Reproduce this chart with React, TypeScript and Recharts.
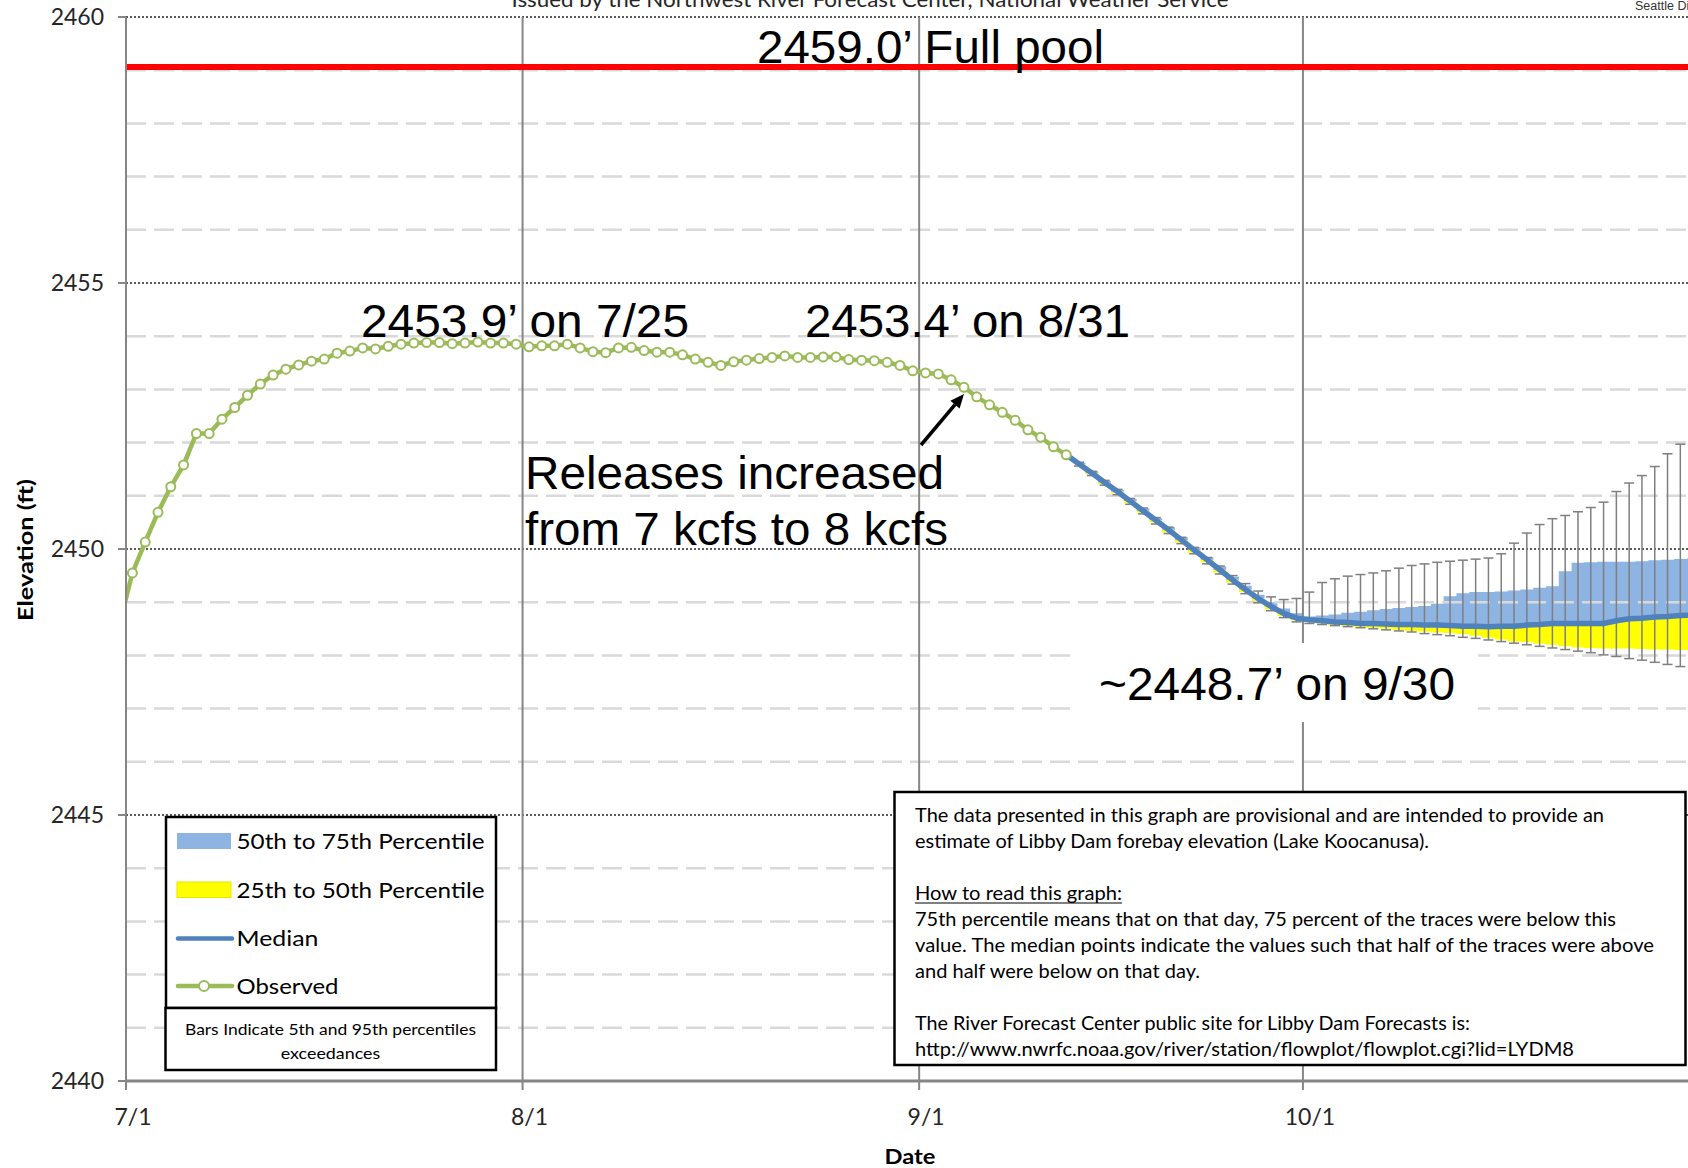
import React from "react";
import {
  Area,
  CartesianGrid,
  ComposedChart,
  ErrorBar,
  Line,
  ReferenceLine,
  XAxis,
  YAxis,
} from "recharts";

// day 0 = 7/1, one step per day
const monthLabels = ["7/1", "8/1", "9/1", "10/1"];
const monthStartDays = [0, 31, 62, 92];
const majorTicks = [2440, 2445, 2450, 2455, 2460];
const minorTicks = [
  2441, 2442, 2443, 2444, 2446, 2447, 2448, 2449, 2451, 2452, 2453, 2454,
  2456, 2457, 2458, 2459,
];
const fullPoolElev = 2459.06;

// observed forebay elevation, starting 6/30
const observedStartDay = -1;
const observedElev = [
  2448.6, 2449.55, 2450.13, 2450.69, 2451.17, 2451.58, 2452.17, 2452.17,
  2452.44, 2452.66, 2452.89, 2453.1, 2453.27, 2453.38, 2453.46, 2453.53,
  2453.57, 2453.68, 2453.72, 2453.78, 2453.76, 2453.81, 2453.85, 2453.87,
  2453.88, 2453.88, 2453.86, 2453.87, 2453.89, 2453.87, 2453.87, 2453.85,
  2453.8, 2453.82, 2453.82, 2453.85, 2453.78, 2453.71, 2453.69, 2453.78,
  2453.79, 2453.73, 2453.7, 2453.7, 2453.65, 2453.57, 2453.51, 2453.45,
  2453.52, 2453.55, 2453.58, 2453.6, 2453.63, 2453.6, 2453.6, 2453.61,
  2453.61, 2453.56, 2453.55, 2453.54, 2453.51, 2453.45, 2453.35, 2453.31,
  2453.29, 2453.18, 2453.04, 2452.86, 2452.71, 2452.57, 2452.42, 2452.24,
  2452.1, 2451.92, 2451.77,
];

// median forecast, from 9/12
const forecastStartDay = 73;
const medianElev = [
  2451.77, 2451.6, 2451.43, 2451.25, 2451.08, 2450.9, 2450.72, 2450.54,
  2450.36, 2450.17, 2449.98, 2449.8, 2449.61, 2449.42, 2449.24, 2449.07,
  2448.92, 2448.79, 2448.7, 2448.67, 2448.65, 2448.63, 2448.62, 2448.6,
  2448.6, 2448.59, 2448.58, 2448.58, 2448.57, 2448.57, 2448.56, 2448.55,
  2448.55, 2448.54, 2448.55, 2448.55, 2448.57, 2448.58, 2448.6, 2448.6,
  2448.6, 2448.6, 2448.6, 2448.65, 2448.69, 2448.7, 2448.72, 2448.73,
  2448.75, 2448.76,
];

// percentiles, from 9/13
const bandStartDay = 74;
const p5Elev = [
  2451.56, 2451.38, 2451.2, 2451.02, 2450.84, 2450.66, 2450.47, 2450.29,
  2450.1, 2449.91, 2449.72, 2449.53, 2449.34, 2449.16, 2448.99, 2448.84,
  2448.71, 2448.63, 2448.6, 2448.58, 2448.56, 2448.54, 2448.52, 2448.5,
  2448.48, 2448.46, 2448.44, 2448.41, 2448.39, 2448.37, 2448.34, 2448.32,
  2448.29, 2448.26, 2448.23, 2448.2, 2448.17, 2448.14, 2448.11, 2448.08,
  2448.05, 2448.01, 2447.98, 2447.94, 2447.91, 2447.87, 2447.83, 2447.79,
  2447.76,
];
const p25Elev = [
  2451.58, 2451.4, 2451.22, 2451.05, 2450.86, 2450.68, 2450.5, 2450.31,
  2450.12, 2449.93, 2449.75, 2449.56, 2449.37, 2449.19, 2449.02, 2448.87,
  2448.74, 2448.66, 2448.63, 2448.6, 2448.57, 2448.55, 2448.53, 2448.52,
  2448.5, 2448.48, 2448.46, 2448.45, 2448.43, 2448.42, 2448.4, 2448.37,
  2448.33, 2448.3, 2448.26, 2448.25, 2448.22, 2448.2, 2448.17, 2448.15,
  2448.14, 2448.13, 2448.13, 2448.13, 2448.12, 2448.11, 2448.11, 2448.1,
  2448.1,
];
const p75Elev = [
  2451.62, 2451.46, 2451.28, 2451.11, 2450.94, 2450.76, 2450.58, 2450.41,
  2450.22, 2450.03, 2449.85, 2449.67, 2449.48, 2449.31, 2449.14, 2449.0,
  2448.88, 2448.79, 2448.73, 2448.75, 2448.77, 2448.8, 2448.82, 2448.85,
  2448.87, 2448.89, 2448.91, 2448.93, 2448.97, 2449.11, 2449.17, 2449.19,
  2449.19, 2449.2, 2449.22, 2449.24, 2449.27, 2449.3, 2449.58, 2449.74,
  2449.75, 2449.76, 2449.76, 2449.76, 2449.77, 2449.79, 2449.8, 2449.81,
  2449.82,
];
const p95Elev = [
  2451.63, 2451.46, 2451.29, 2451.12, 2450.95, 2450.77, 2450.59, 2450.41,
  2450.22, 2450.03, 2449.84, 2449.68, 2449.5, 2449.35, 2449.21, 2449.1,
  2449.05, 2449.07, 2449.19, 2449.37, 2449.44, 2449.49, 2449.52, 2449.55,
  2449.59, 2449.64, 2449.69, 2449.72, 2449.75, 2449.77, 2449.79, 2449.81,
  2449.83, 2449.91, 2450.11, 2450.3, 2450.46, 2450.57, 2450.63, 2450.7,
  2450.78, 2450.88, 2451.08, 2451.24, 2451.38, 2451.55, 2451.79, 2451.97,
  2452.15,
];

const lastDay = 122;
const rows: any[] = [];
for (let day = observedStartDay; day <= lastDay; day++) {
  const row: any = { day };
  const oi = day - observedStartDay;
  if (oi < observedElev.length) row.observed = observedElev[oi];
  const mi = day - forecastStartDay;
  if (mi >= 0 && mi < medianElev.length) row.median = medianElev[mi];
  const bi = day - bandStartDay;
  if (bi >= 0 && bi < p5Elev.length) {
    row.band25to50 = [p25Elev[bi], row.median];
    row.band50to75 = [row.median, p75Elev[bi]];
    row.whisker = row.median;
    row.whiskerErr = [row.median - p5Elev[bi], p95Elev[bi] - row.median];
  }
  rows.push(row);
}

const calibri = "Lato, 'Open Sans', sans-serif";
const arial = "'Liberation Sans', Arial, sans-serif";

const DateTick = (props: any) => {
  const { x, y, index } = props;
  return (
    <text
      x={x + 7}
      y={y + 33}
      textAnchor="middle"
      fontFamily={calibri}
      fontSize={23}
      fill="#262626"
    >
      {monthLabels[index]}
    </text>
  );
};

const Overlay = () => (
  <svg
    width={1688}
    height={1168}
    style={{ position: "absolute", left: 0, top: 0, pointerEvents: "none" }}
  >
    <text x={870} y={7} textAnchor="middle" fontFamily={calibri} fontSize={21} fill="#262626" textLength={717} lengthAdjust="spacingAndGlyphs">
      Issued by the Northwest River Forecast Center, National Weather Service
    </text>
    <text x={1635} y={9.5} fontFamily={arial} fontSize={12.5} fill="#333">
      Seattle District
    </text>

    {/* annotations */}
    <g fontFamily={arial} fontSize={46} fill="#000">
      <text x={757} y={62.5} textLength={347} lengthAdjust="spacingAndGlyphs">2459.0’ Full pool</text>
      <text x={361} y={337} textLength={328} lengthAdjust="spacingAndGlyphs">2453.9’ on 7/25</text>
      <text x={805} y={337} textLength={325} lengthAdjust="spacingAndGlyphs">2453.4’ on 8/31</text>
      <text x={525} y={489} textLength={419} lengthAdjust="spacingAndGlyphs">Releases increased</text>
      <text x={525} y={545} textLength={423} lengthAdjust="spacingAndGlyphs">from 7 kcfs to 8 kcfs</text>
      <rect x={1077} y={643} width={401} height={79} fill="#fff" />
      <text x={1099} y={700} textLength={356} lengthAdjust="spacingAndGlyphs">~2448.7’ on 9/30</text>
    </g>
    <line x1={921} y1={445} x2={955} y2={404.7} stroke="#000" strokeWidth={3.5} />
    <polygon points="964,394 959.6,408.6 950.4,400.8" fill="#000" />

    {/* axis titles */}
    <text
      x={24}
      y={550}
      transform="rotate(-90 24 550)"
      textAnchor="middle"
      dominantBaseline="central"
      fontFamily={calibri}
      fontWeight="bold"
      fontSize={21}
      fill="#000"
      textLength={142}
      lengthAdjust="spacingAndGlyphs"
    >
      Elevation (ft)
    </text>
    <text x={910} y={1164} textAnchor="middle" fontFamily={calibri} fontWeight="bold" fontSize={21} fill="#000" textLength={51} lengthAdjust="spacingAndGlyphs">
      Date
    </text>

    {/* legend */}
    <rect x={166} y={817} width={330} height={191} fill="#fff" stroke="#000" strokeWidth={2.5} />
    <rect x={177} y={833} width={54} height={16} fill="#8DB4E2" />
    <rect x={177} y={882} width={54} height={15.5} fill="#FFFF00" stroke="#E5E500" strokeWidth={1} />
    <line x1={178} y1={938.5} x2={232} y2={938.5} stroke="#4F81BD" strokeWidth={4.5} strokeLinecap="round" />
    <line x1={178} y1={986} x2={232} y2={986} stroke="#9BBB59" strokeWidth={4.5} strokeLinecap="round" />
    <circle cx={204} cy={986} r={5} fill="#fff" stroke="#9BBB59" strokeWidth={2} />
    <g fontFamily={calibri} fontSize={22} fill="#000">
      <text x={236.5} y={849} textLength={248} lengthAdjust="spacingAndGlyphs">50th to 75th Percentile</text>
      <text x={236.5} y={897.5} textLength={248} lengthAdjust="spacingAndGlyphs">25th to 50th Percentile</text>
      <text x={236.5} y={946} textLength={82} lengthAdjust="spacingAndGlyphs">Median</text>
      <text x={236.5} y={994} textLength={102} lengthAdjust="spacingAndGlyphs">Observed</text>
    </g>
    <rect x={165.5} y={1008} width={330.5} height={62} fill="#fff" stroke="#000" strokeWidth={2.5} />
    <g fontFamily={calibri} fontSize={15} fill="#000" textAnchor="middle">
      <text x={330.5} y={1035} textLength={291} lengthAdjust="spacingAndGlyphs">Bars Indicate 5th and 95th percentiles</text>
      <text x={330.5} y={1058.5} textLength={99.5} lengthAdjust="spacingAndGlyphs">exceedances</text>
    </g>

    {/* note box */}
    <rect x={894.5} y={792} width={791} height={273} fill="#fff" stroke="#000" strokeWidth={2.5} />
    <g fontFamily={calibri} fontSize={19} fill="#000" style={{ whiteSpace: "pre" }}>
      <text x={915} y={821.7} textLength={689} lengthAdjust="spacingAndGlyphs">The data presented in this graph are provisional and are intended to provide an</text>
      <text x={915} y={847.7} textLength={514} lengthAdjust="spacingAndGlyphs">estimate of Libby Dam forebay elevation (Lake Koocanusa).</text>
      <text x={915} y={899.7} textLength={207} lengthAdjust="spacingAndGlyphs">How to read this graph:</text>
      <text x={915} y={925.7} textLength={701} lengthAdjust="spacingAndGlyphs">75th percentile means that on that day, 75 percent of the traces were below this</text>
      <text x={915} y={951.7} textLength={739} lengthAdjust="spacingAndGlyphs">{"value.  The median points indicate the values such that half of  the traces were above"}</text>
      <text x={915} y={977.7} textLength={285} lengthAdjust="spacingAndGlyphs">and half were below on that day.</text>
      <text x={915} y={1029.7} textLength={555} lengthAdjust="spacingAndGlyphs">The River Forecast Center public site for Libby Dam Forecasts is:</text>
      <text x={915} y={1055.7} textLength={659} lengthAdjust="spacingAndGlyphs">http://www.nwrfc.noaa.gov/river/station/flowplot/flowplot.cgi?lid=LYDM8</text>
    </g>
    <line x1={915} y1={903} x2={1122} y2={903} stroke="#000" strokeWidth={1.2} />
  </svg>
);

export default function App() {
  return (
    <div style={{ position: "absolute", left: 0, top: 0, width: 1688, height: 1168, background: "#fff" }}>
      <ComposedChart
        width={1688}
        height={1168}
        data={rows}
        margin={{ top: 17, right: 0, bottom: 0, left: 0 }}
      >
        <CartesianGrid
          vertical={false}
          stroke="#262626"
          strokeDasharray="2 2"
          strokeWidth={1.5}
        />
        {minorTicks.map((v) => (
          <ReferenceLine
            key={`minor-${v}`}
            y={v}
            stroke="#D9D9D9"
            strokeWidth={2.5}
            strokeDasharray="20 8"
          />
        ))}
        {monthStartDays.map((d) => (
          <ReferenceLine key={`month-${d}`} x={d - 0.5} stroke="#868686" strokeWidth={2} />
        ))}
        <ReferenceLine y={fullPoolElev} stroke="#FF0000" strokeWidth={6} />
        <XAxis
          type="number"
          dataKey="day"
          domain={[-0.5, 121.6]}
          allowDataOverflow
          ticks={monthStartDays.map((d) => d - 0.5)}
          interval={0}
          height={87}
          tickSize={9}
          tick={<DateTick />}
          axisLine={{ stroke: "#868686", strokeWidth: 3 }}
          tickLine={{ stroke: "#868686", strokeWidth: 2 }}
        />
        <YAxis
          type="number"
          domain={[2440, 2460]}
          allowDataOverflow
          ticks={majorTicks}
          interval={0}
          width={126}
          tickSize={8}
          tickMargin={14}
          tick={{ fontFamily: calibri, fontSize: 23, fill: "#262626" }}
          axisLine={{ stroke: "#868686", strokeWidth: 2 }}
          tickLine={{ stroke: "#868686", strokeWidth: 2 }}
        />
        <Area
          type="step"
          dataKey="band25to50"
          stroke="none"
          fill="#FFFF00"
          fillOpacity={1}
          isAnimationActive={false}
        />
        <Area
          type="step"
          dataKey="band50to75"
          stroke="none"
          fill="#8DB4E2"
          fillOpacity={1}
          isAnimationActive={false}
        />
        <Line
          dataKey="whisker"
          stroke="none"
          dot={false}
          activeDot={false}
          isAnimationActive={false}
        >
          <ErrorBar
            dataKey="whiskerErr"
            direction="y"
            width={5}
            stroke="#7F7F7F"
            strokeWidth={1.5}
          />
        </Line>
        <Line
          type="linear"
          dataKey="median"
          stroke="#4F81BD"
          strokeWidth={5.5}
          dot={false}
          activeDot={false}
          isAnimationActive={false}
        />
        <Line
          type="linear"
          dataKey="observed"
          stroke="#9BBB59"
          strokeWidth={4.5}
          dot={{ r: 4.5, fill: "#FFFFFF", stroke: "#9BBB59", strokeWidth: 2 }}
          activeDot={false}
          isAnimationActive={false}
        />
      </ComposedChart>
      <Overlay />
    </div>
  );
}
